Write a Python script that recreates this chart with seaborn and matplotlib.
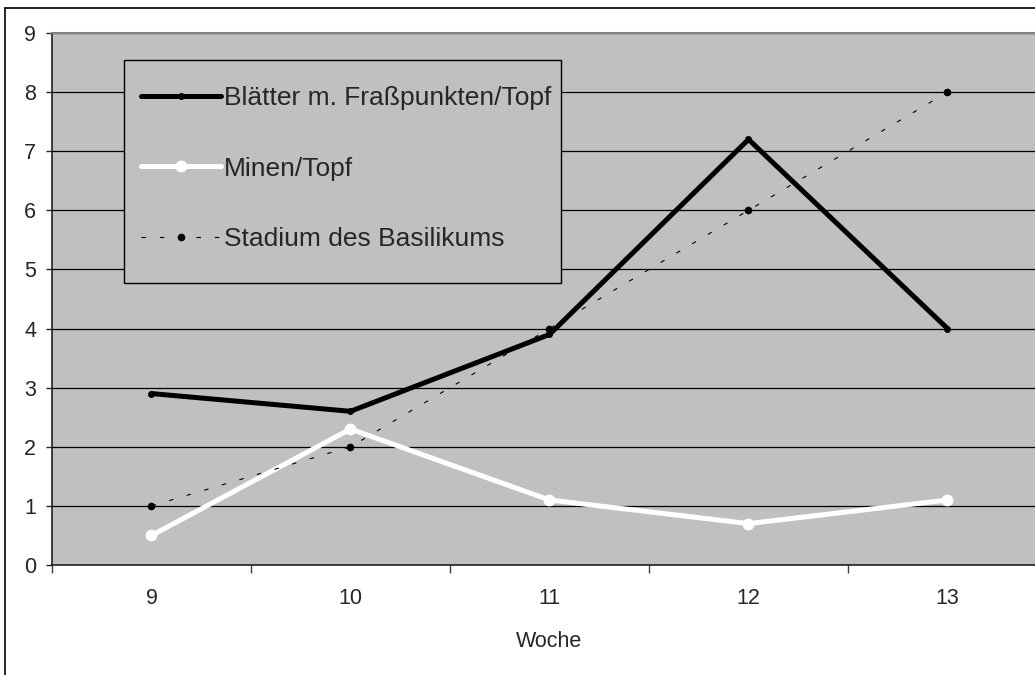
import numpy as np
import pandas as pd
import matplotlib
matplotlib.use('Agg')
import matplotlib.pyplot as plt
from matplotlib.lines import Line2D
from matplotlib.patches import Rectangle
from matplotlib.ticker import FixedLocator, NullFormatter
import seaborn as sns

# data
wochen = [9, 10, 11, 12, 13]
blaetter = [2.9, 2.6, 3.9, 7.2, 4.0]
minen = [0.5, 2.3, 1.1, 0.7, 1.1]
stadium = [1, 2, 4, 6, 8]

sns.set_style('white')
plt.rcParams['font.family'] = ['Liberation Sans', 'DejaVu Sans']

df = pd.DataFrame({'Woche': wochen, 'blaetter': blaetter, 'minen': minen, 'stadium': stadium})

fig = plt.figure(figsize=(10.35, 6.75), dpi=100)
ax = fig.add_axes([52/1035, 110/675, 995/1035, 532/675])
ax.set_facecolor('#c0c0c0')

sns.lineplot(data=df, x='Woche', y='blaetter', ax=ax, color='black', lw=3.6,
             marker='o', markersize=5, markeredgewidth=0, label='Blätter m. Fraßpunkten/Topf')
sns.lineplot(data=df, x='Woche', y='minen', ax=ax, color='white', lw=3.6,
             marker='o', markersize=8.5, markeredgewidth=0, label='Minen/Topf')
sns.lineplot(data=df, x='Woche', y='stadium', ax=ax, color='black', lw=0.8,
             linestyle=(0, (4, 12.5)), marker='o', markersize=5.5, markeredgewidth=0,
             label='Stadium des Basilikums')

ax.set_xlim(8.5, 13.5)
ax.set_ylim(0, 9)
ax.set_yticks(range(0, 10))
ax.yaxis.grid(True, color='black', lw=0.9)
ax.set_axisbelow(True)

# category axis: ticks between categories, labels at centers
ax.xaxis.set_major_locator(FixedLocator([8.5, 9.5, 10.5, 11.5, 12.5, 13.5]))
ax.xaxis.set_major_formatter(NullFormatter())
ax.xaxis.set_minor_locator(FixedLocator(wochen))
ax.set_xticklabels([str(w) for w in wochen], minor=True)
ax.tick_params(axis='x', which='major', direction='out', length=6, width=1, color='#404040', bottom=True)
ax.tick_params(axis='x', which='minor', length=0, pad=16.5, labelsize=15.5)
ax.tick_params(axis='y', direction='out', length=4.5, width=1, left=True, pad=7, labelsize=15.5)

ax.set_xlabel('Woche', fontsize=15.5, labelpad=16)
ax.set_ylabel('')

for s in ['left', 'bottom']:
    ax.spines[s].set_color('#202020')
    ax.spines[s].set_linewidth(1.2)
ax.spines['top'].set_color('#808080')
ax.spines['top'].set_linewidth(1.5)

# legend box drawn separately, legend entries placed inside it
box = Rectangle(((124-52)/995, (565-283)/532), 437/995, 223/532, transform=ax.transAxes,
                facecolor='#c0c0c0', edgecolor='black', lw=1, zorder=4)
ax.add_patch(box)
leg = ax.legend(loc='upper left', bbox_to_anchor=((141-52)/995, (565-86)/532), borderaxespad=0,
                fontsize=19, frameon=False, handlelength=3.05,
                handletextpad=0.1, labelspacing=1.77, borderpad=0)
leg.set_zorder(5)

# outer chart frame (cropped at right and bottom)
fig.add_artist(Line2D([5/1035, 5/1035], [0, 667/675], transform=fig.transFigure, color='black', lw=1.2))
fig.add_artist(Line2D([5/1035, 1], [667/675, 667/675], transform=fig.transFigure, color='black', lw=1.2))

fig.savefig('out.png', dpi=100)
